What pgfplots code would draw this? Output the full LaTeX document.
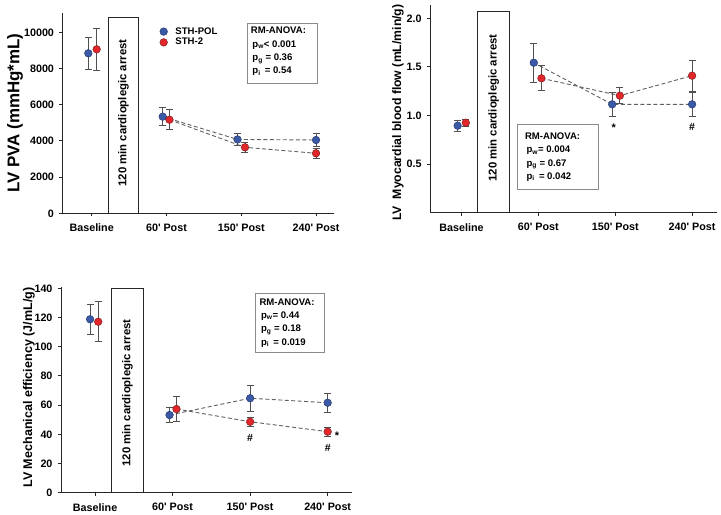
\documentclass[border=0pt]{standalone}
\usepackage{pgfplots}
\pgfplotsset{compat=1.18}
\usepackage{fontspec}
\setmainfont{Liberation Sans}
\definecolor{bluept}{HTML}{3A5AA8}
\definecolor{blueedge}{HTML}{25386E}
\definecolor{redpt}{HTML}{E3262A}
\definecolor{rededge}{HTML}{7A1F1F}
\definecolor{errc}{HTML}{505050}
\definecolor{dashc}{HTML}{606060}
\definecolor{boxc}{HTML}{8A8A8A}

\pgfplotsset{
  myaxis/.style={
    scale only axis, anchor=south west,
    axis x line*=bottom, axis y line*=left,
    clip=false, tick align=outside, major tick length=3bp,
    xtick={0,1,2,3},
    xticklabels={Baseline,60\textquotesingle{} Post,150\textquotesingle{} Post,240\textquotesingle{} Post},
    /pgf/number format/assume math mode=true,
    /pgf/number format/set thousands separator={},
    ticklabel style={font=\fontsize{10.8}{12}\selectfont\bfseries},
    x tick label style={yshift=-4bp},
    y tick label style={xshift=-2bp},
    axis line style={line width=0.9bp, black!85},
    major tick style={line width=0.9bp, black!85},
    every axis y label/.style={rotate=90, anchor=center},
  },
  blueser/.style={only marks, forget plot, mark=*, mark size=3.8bp,
    mark options={fill=bluept, draw=blueedge, line width=0.5bp},
    error bars/.cd, y dir=both, y explicit,
    error bar style={errc, line width=0.9bp},
    error mark options={rotate=90, errc, mark size=3.5bp, line width=0.9bp}},
  redser/.style={only marks, forget plot, mark=*, mark size=3.8bp,
    mark options={fill=redpt, draw=rededge, line width=0.5bp},
    error bars/.cd, y dir=both, y explicit,
    error bar style={errc, line width=0.9bp},
    error mark options={rotate=90, errc, mark size=3.5bp, line width=0.9bp}},
  dashser/.style={forget plot, no marks, dashc, line width=0.9bp, dash pattern=on 4bp off 2.5bp},
}
\newcommand{\arrestfont}{\fontsize{11.4}{13}\selectfont\bfseries}
\newcommand{\boxfont}{\fontsize{9.6}{13.4}\selectfont\bfseries}

\begin{document}
\begin{tikzpicture}
\useasboundingbox (0bp,0bp) rectangle (721bp,515bp);

% ---------------- Panel 1: LV PVA ----------------
\begin{axis}[myaxis, at={(62.5bp,301.7bp)}, width=271.5bp, height=200bp,
  xmin=-0.39, xmax=3.24, ymin=0, ymax=11050,
  ytick={0,2000,4000,6000,8000,10000},
  scaled y ticks=false,
  ylabel={LV PVA (mmHg*mL)},
  ylabel style={at={(axis description cs:-0.175,0.5)}, font=\fontsize{17}{20}\selectfont\bfseries},
  legend style={draw=none, fill=none, inner sep=0pt, at={(axis description cs:0.358,0.8815)}, anchor=west,
    font=\fontsize{9.6}{11}\selectfont\bfseries, row sep=0.6bp,
    nodes={inner sep=1bp},
    /tikz/every odd column/.append style={column sep=7bp}},
  legend cell align=left,
]
\draw[line width=0.9bp, black!85, fill=white] (axis cs:0.22,0) rectangle (axis cs:0.63,10845);
\node[rotate=90, font=\arrestfont] at (axis cs:0.425,5540) {120 min cardioplegic arrest};
\addplot[dashser] coordinates {(0.95,5340) (1.95,4080) (3.0,4050)};
\addplot[dashser] coordinates {(1.04,5170) (2.05,3646) (3.0,3315)};
\addplot[blueser] coordinates {
  (-0.045,8840) +- (0,900)
  (0.95,5340) +- (0,500)
  (1.95,4080) +- (0,340)
  (3.0,4050) +- (0,370)
};
\addplot[redser] coordinates {
  (0.067,9060) +- (0,1160)
  (1.04,5170) +- (0,545)
  (2.05,3646) +- (0,275)
  (3.0,3315) +- (0,275)
};
\addlegendimage{only marks, mark=*, mark size=3.8bp, mark options={fill=bluept, draw=blueedge, line width=0.5bp}}
\addlegendentry{STH-POL}
\addlegendimage{only marks, mark=*, mark size=3.8bp, mark options={fill=redpt, draw=rededge, line width=0.5bp}}
\addlegendentry{STH-2}
\node[draw=boxc, line width=0.9bp, anchor=north west, minimum width=70bp, minimum height=60.5bp, inner sep=0pt] (b1) at (axis cs:2.08,10541) {};
\node[anchor=north west, align=left, inner sep=0pt, font=\boxfont] at ([xshift=3.5bp,yshift=-4.5bp]b1.north west)
  {RM-ANOVA:\\\hspace{1.5bp}p\textsubscript{w}< 0.001\\\hspace{1.5bp}p\textsubscript{g} = 0.36\\\hspace{1.5bp}p\textsubscript{i} \,= 0.54};
\end{axis}

% ---------------- Panel 2: Myocardial blood flow ----------------
\begin{axis}[myaxis, at={(430bp,302.3bp)}, width=286.7bp, height=207.7bp,
  xmin=-0.41, xmax=3.32, ymin=0, ymax=2.137,
  ytick={0.5,1.0,1.5,2.0},
  yticklabel style={/pgf/number format/.cd, fixed, fixed zerofill, precision=1},
  ylabel={LV\ \ Myocardial blood flow (mL/min/g)},
  ylabel style={at={(axis description cs:-0.112,0.482)}, font=\fontsize{12.3}{14}\selectfont\bfseries},
]
\draw[line width=0.9bp, black!85, fill=white] (axis cs:0.21,0) rectangle (axis cs:0.63,2.075);
\node[rotate=90, font=\arrestfont] at (axis cs:0.42,1.077) {120 min cardioplegic arrest};
\addplot[dashser] coordinates {(0.94,1.543) (1.96,1.115) (3.0,1.115)};
\addplot[dashser] coordinates {(1.04,1.383) (2.06,1.204) (3.0,1.41)};
\addplot[blueser] coordinates {
  (-0.05,0.895) +- (0,0.057)
  (0.94,1.543) +- (0,0.20)
  (1.96,1.115) +- (0,0.123)
  (3.0,1.115) +- (0,0.123)
};
\addplot[redser] coordinates {
  (0.056,0.926) +- (0,0.038)
  (1.04,1.383) +- (0,0.13)
  (2.06,1.204) +- (0,0.083)
  (3.0,1.41) +- (0,0.158)
};
\node[font=\fontsize{11}{12}\selectfont\bfseries] at (axis cs:1.98,0.87) {*};
\node[font=\fontsize{10.5}{12}\selectfont\bfseries] at (axis cs:3.0,0.885) {\#};
\node[draw=boxc, line width=0.9bp, anchor=north west, minimum width=81bp, minimum height=65bp, inner sep=0pt] (b2) at (axis cs:0.72,0.913) {};
\node[anchor=north west, align=left, inner sep=0pt, font=\boxfont] at ([xshift=8bp,yshift=-8.5bp]b2.north west)
  {RM-ANOVA:\\\hspace{1.5bp}p\textsubscript{w}= 0.004\\\hspace{1.5bp}p\textsubscript{g} = 0.67\\\hspace{1.5bp}p\textsubscript{i} \,= 0.042};
\end{axis}

% ---------------- Panel 3: Mechanical efficiency ----------------
\begin{axis}[myaxis, at={(61bp,22.3bp)}, width=290.7bp, height=206bp,
  xmin=-0.44, xmax=3.31, ymin=0, ymax=141.1,
  ytick={0,20,40,60,80,100,120,140},
  ylabel={LV Mechanical efficiency (J/mL/g)},
  ylabel style={at={(axis description cs:-0.11,0.51)}, font=\fontsize{12.6}{14}\selectfont\bfseries},
]
\draw[line width=0.9bp, black!85, fill=white] (axis cs:0.215,0) rectangle (axis cs:0.62,140);
\node[rotate=90, font=\arrestfont] at (axis cs:0.417,68.3) {120 min cardioplegic arrest};
\addplot[dashser] coordinates {(0.96,53.2) (2.0,64.7) (3.0,61.6)};
\addplot[dashser] coordinates {(1.05,57.3) (2.0,48.6) (3.0,41.8)};
\addplot[blueser] coordinates {
  (-0.065,118.8) +- (0,10.3)
  (0.96,53.2) +- (0,5.4)
  (2.0,64.7) +- (0,8.8)
  (3.0,61.6) +- (0,6.3)
};
\addplot[redser] coordinates {
  (0.04,117.1) +- (0,13.8)
  (1.05,57.3) +- (0,8.6)
  (2.0,48.6) +- (0,2.9)
  (3.0,41.8) +- (0,3.0)
};
\node[font=\fontsize{10.5}{12}\selectfont\bfseries] at (axis cs:2.0,37.7) {\#};
\node[font=\fontsize{10.5}{12}\selectfont\bfseries] at (axis cs:3.0,30.8) {\#};
\node[font=\fontsize{11}{12}\selectfont\bfseries] at (axis cs:3.12,39.0) {*};
\node[draw=boxc, line width=0.9bp, anchor=north west, minimum width=69bp, minimum height=59bp, inner sep=0pt] (b3) at (axis cs:2.06,137) {};
\node[anchor=north west, align=left, inner sep=0pt, font=\boxfont] at ([xshift=4.5bp,yshift=-5.5bp]b3.north west)
  {RM-ANOVA:\\\hspace{1.5bp}p\textsubscript{w}= 0.44\\\hspace{1.5bp}p\textsubscript{g} = 0.18\\\hspace{1.5bp}p\textsubscript{i} \,= 0.019};
\end{axis}
\end{tikzpicture}
\end{document}
